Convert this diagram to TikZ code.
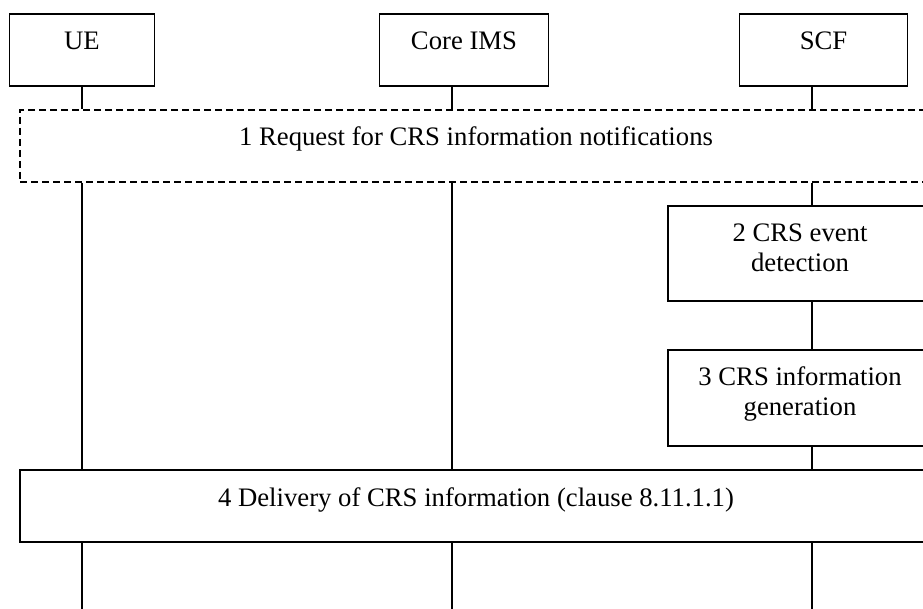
\documentclass[tikz,border=0pt]{standalone}
\usepackage{fontspec}
\setmainfont{Liberation Serif}
\usetikzlibrary{positioning}

\begin{document}
\begin{tikzpicture}[
    x=1pt, y=-1pt,
    font=\fontsize{26.7}{30}\selectfont,
    line width=1.3pt,
    entity/.style={rectangle, draw, minimum height=72pt, text height=36pt, text depth=36pt, inner ysep=0pt},
    span/.style={entity, minimum width=912pt},
    action/.style={rectangle, draw, minimum width=264pt, align=center, inner ysep=0pt},
    life/.style={draw}
]
    \clip (0,0) rectangle (923,609);
    \node[entity, minimum width=145pt] (ue) at (82,50) {UE};
    \node[entity, minimum width=169pt] (ims) at (464,50) {Core IMS};
    \node[entity, minimum width=168pt] (scf) at (823.5,50) {SCF};
    \coordinate (uebot) at (82,609);
    \coordinate (imsbot) at (452,609);
    \coordinate (scfbot) at (812,609);
    \node[span, dashed, dash pattern=on 7pt off 4pt] (req) at (476,146) {1 Request for CRS information notifications};
    \node[action, text height=65.7pt, text depth=29.3pt] (detect) at (800,253.5) {2 CRS event\\detection};
    \node[action, text height=65pt, text depth=31pt] (gen) at (800,398) {3 CRS information\\generation};
    \node[span] (dlv) at (476,506) {4 Delivery of CRS information (clause 8.11.1.1)};

    \draw[life] (uebot |- ue.south) -- (uebot |- req.north);
    \draw[life] (uebot |- req.south) -- (uebot |- dlv.north);
    \draw[life] (uebot |- dlv.south) -- (uebot);
    \draw[life] (imsbot |- ims.south) -- (imsbot |- req.north);
    \draw[life] (imsbot |- req.south) -- (imsbot |- dlv.north);
    \draw[life] (imsbot |- dlv.south) -- (imsbot);
    \draw[life] (scfbot |- scf.south) -- (scfbot |- req.north);
    \draw[life] (scfbot |- req.south) -- (scfbot |- detect.north);
    \draw[life] (scfbot |- detect.south) -- (scfbot |- gen.north);
    \draw[life] (scfbot |- gen.south) -- (scfbot |- dlv.north);
    \draw[life] (scfbot |- dlv.south) -- (scfbot);
\end{tikzpicture}
\end{document}
